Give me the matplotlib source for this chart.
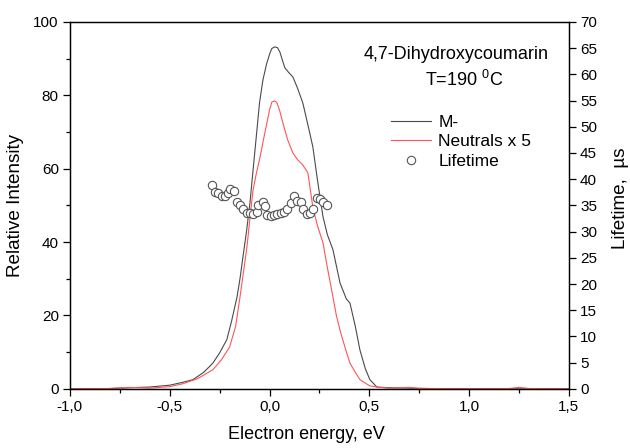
import numpy as np
import matplotlib.pyplot as plt
from matplotlib.ticker import MultipleLocator, FuncFormatter

plt.rcParams['font.family'] = ['Liberation Sans', 'DejaVu Sans']
plt.rcParams['mathtext.fontset'] = 'custom'
plt.rcParams['mathtext.rm'] = 'Liberation Sans'

# M- (black)
m_x = [-1.0, -0.8, -0.7, -0.6, -0.5, -0.434, -0.384, -0.33, -0.284, -0.25, -0.214, -0.19,
       -0.163, -0.148, -0.133, -0.115, -0.098, -0.08, -0.063, -0.05, -0.033, -0.015,
       0.002, 0.012, 0.027, 0.04, 0.052, 0.065, 0.077, 0.095, 0.117, 0.14, 0.167, 0.19,
       0.217, 0.24, 0.268, 0.29, 0.318, 0.353, 0.385, 0.403, 0.43, 0.453, 0.48, 0.503,
       0.538, 0.6, 0.7, 0.8, 1.0, 1.2, 1.5]
m_y = [0.0, 0.1, 0.3, 0.5, 1.0, 1.8, 2.5, 4.5, 7.0, 9.8, 13.4, 18.5,
       25.0, 30.0, 36.0, 43.0, 50.7, 61.0, 70.6, 78.0, 84.2, 88.5,
       91.5, 92.8, 93.2, 93.0, 91.8, 89.5, 87.5, 86.3, 85.0, 82.0, 77.9, 72.5,
       66.0, 57.0, 46.9, 42.0, 37.9, 28.9, 24.5, 23.4, 17.0, 10.6, 5.5, 2.5,
       0.5, 0.3, 0.2, 0.1, 0.0, 0.0, 0.0]

# Neutrals x 5 (red)
n_x = [-1.0, -0.8, -0.7, -0.6, -0.5, -0.434, -0.36, -0.284, -0.24, -0.2, -0.17, -0.148,
       -0.13, -0.113, -0.098, -0.083, -0.065, -0.048, -0.03, -0.013, 0.0, 0.012, 0.025,
       0.037, 0.05, 0.067, 0.09, 0.117, 0.14, 0.167, 0.192, 0.217, 0.24, 0.268, 0.29,
       0.318, 0.335, 0.353, 0.38, 0.403, 0.43, 0.453, 0.503, 0.55, 0.6, 0.7, 0.75, 0.8,
       1.0, 1.2, 1.25, 1.3, 1.5]
n_y = [0.0, 0.1, 0.4, 0.2, 0.6, 1.4, 2.8, 5.2, 8.0, 11.4, 17.0, 25.0,
       32.0, 38.7, 46.5, 54.0, 59.0, 63.0, 68.0, 72.5, 76.0, 78.2, 78.5,
       78.0, 76.0, 72.5, 68.0, 64.3, 62.5, 61.0, 58.9, 49.6, 44.5, 39.8, 33.0,
       25.0, 20.0, 16.0, 11.0, 7.0, 4.5, 2.5, 0.8, 0.4, 0.2, 0.4, 0.1, 0.1,
       0.0, 0.1, 0.4, 0.1, 0.0]

# Lifetime (right axis, us)
lt_x = [-0.29, -0.274, -0.257, -0.24, -0.224, -0.207, -0.198, -0.178, -0.162, -0.148,
        -0.132, -0.115, -0.098, -0.082, -0.065, -0.057, -0.032, -0.023, -0.012, 0.005,
        0.022, 0.039, 0.056, 0.072, 0.089, 0.106, 0.122, 0.139, 0.156, 0.169, 0.186,
        0.202, 0.219, 0.236, 0.253, 0.269, 0.286]
lt_y = [38.8, 37.6, 37.3, 36.7, 36.7, 37.3, 38.1, 37.8, 35.6, 35.1,
        34.3, 33.5, 33.5, 33.4, 33.8, 35.1, 35.7, 34.8, 33.2, 32.9,
        33.1, 33.3, 33.5, 33.8, 34.3, 35.4, 36.7, 35.9, 35.7, 34.3, 33.3,
        33.5, 34.4, 36.5, 36.2, 35.7, 35.1]

comma = FuncFormatter(lambda v, p: f'{v:.1f}'.replace('.', ','))

fig = plt.figure(figsize=(6.3, 4.48), dpi=100)
ax = fig.add_axes([0.111, 0.132, 0.792, 0.819])
ax2 = ax.twinx()

l1, = ax.plot(m_x, m_y, color='#4a4a4a', lw=0.8, label='M-')
l2, = ax.plot(n_x, n_y, color='#ff5555', lw=0.8, label='Neutrals x 5')
l3, = ax2.plot(lt_x, lt_y, 'o', ms=6, mfc='white', mec='#555555', mew=0.8,
               label='Lifetime')

ax.set_xlim(-1.0, 1.5)
ax.set_ylim(0, 100)
ax2.set_ylim(0, 70)

ax.xaxis.set_major_locator(MultipleLocator(0.5))
ax.xaxis.set_minor_locator(MultipleLocator(0.25))
ax.xaxis.set_major_formatter(comma)
ax.yaxis.set_major_locator(MultipleLocator(20))
ax.yaxis.set_minor_locator(MultipleLocator(10))
ax2.yaxis.set_major_locator(MultipleLocator(5))

for a in (ax, ax2):
    a.tick_params(which='major', direction='out', length=5, width=0.9,
                  labelsize=11, pad=3)
    a.tick_params(which='minor', direction='out', length=3, width=0.9)
    for s in a.spines.values():
        s.set_linewidth(0.9)

ax.set_xlabel('Electron energy, eV', fontsize=13, labelpad=9, x=0.473)
ax.set_ylabel('Relative Intensity', fontsize=13.6, labelpad=7)
ax2.set_ylabel('Lifetime,  µs', fontsize=13.6, labelpad=11, y=0.52)

ax.text(0.775, 0.91, '4,7-Dihydroxycoumarin', transform=ax.transAxes,
        ha='center', va='center', fontsize=13)
ax.text(0.79, 0.842, 'T=190 $^0$C', transform=ax.transAxes,
        ha='center', va='center', fontsize=13)

ax.legend([l1, l2, l3], ['M-', 'Neutrals x 5', 'Lifetime'],
          loc='upper left', bbox_to_anchor=(0.62, 0.78), frameon=False,
          fontsize=12.5, handlelength=2.3, labelspacing=0.25,
          borderpad=0.2, handletextpad=0.4)

fig.savefig('out.png', dpi=100)
